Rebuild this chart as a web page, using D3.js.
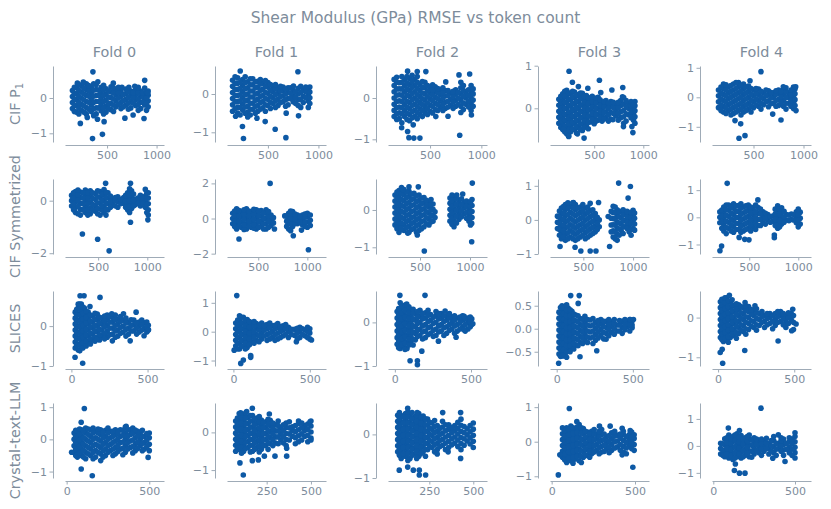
<!DOCTYPE html>
<html><head><meta charset="utf-8">
<script src="https://cdn.jsdelivr.net/npm/d3@7"></script>
<style>body{margin:0;background:#fff}svg text{font-family:"DejaVu Sans",sans-serif}</style>
</head><body><svg id="chart" width="831" height="509"></svg>
<script>
const chartTitle = "Shear Modulus (GPa) RMSE vs token count";
const rowLabels = ["CIF P", "CIF Symmetrized", "SLICES", "Crystal-text-LLM"];
const foldLabels = ["Fold 0", "Fold 1", "Fold 2", "Fold 3", "Fold 4"];

// axis limits [min,max] per row (representation) and column (fold)
const xLimits = [
  [[75,1075],[95,1075],[90,1055],[50,1058],[85,1075]],
  [[163,1170],[182,1190],[180,1170],[165,1160],[120,1130]],
  [[-42,608],[-42,606],[-45,605],[-44,606],[-40,610]],
  [[-10,589],[26,585],[15,578],[-10,584],[-8,598]]
];
const yLimits = [
  [[-1.246,.906],[-1.253,.731],[-1.065,.775],[-.791,.993],[-1.515,1.061]],
  [[-2.03,.825],[-2.02,2.25],[-1.18,.83],[-1.0,1.2],[-1.35,1.41]],
  [[-1.0,.88],[-1.19,1.41],[-1.0,.72],[-.81,.82],[-1.22,.67]],
  [[-1.2,1.13],[-1.21,.78],[-1.0,.72],[-1.05,1.12],[-1.19,1.59]]
];
const xTickValues = [
  [[500,1000],[500,1000],[500,1000],[500,1000],[500,1000]],
  [[500,1000],[500,1000],[500,1000],[500,1000],[500,1000]],
  [[0,500],[0,500],[0,500],[0,500],[0,500]],
  [[0,500],[250,500],[250,500],[0,500],[0,500]]
];
const yTickValues = [
  [[-1,0],[-1,0],[-1,0],[0,1],[-1,0,1]],
  [[-2,0],[-2,0,2],[-1,0],[-1,0,1],[-1,0,1]],
  [[-1,0],[-1,0,1],[-1,0],[-0.5,0,0.5],[-1,0]],
  [[-1,0,1],[-1,0],[-1,0],[-1,0,1],[-1,0,1]]
];

// data: each entry = [token count, residual, residual, ...]
const cifP1_f0 = [
 [150,-.3,-.13,.04,.21],[190,-.4,-.22,-.05,.12,.3],[240,-.35,-.18,0,.17,.35],[290,-.45,-.27,-.1,.08,.25,.4],
 [340,-.38,-.2,-.03,.14,.3],[390,-.45,-.28,-.1,.07,.24,.38],[440,-.36,-.19,-.02,.15,.3],[490,-.4,-.23,-.06,.11,.26],
 [540,-.33,-.16,.01,.17,.32],[590,-.25,-.08,.09,.22],[640,-.3,-.13,.04,.18],[690,-.2,-.04,.12,.25],
 [740,-.28,-.1,.06,.2],[790,-.22,-.05,.1,.25],[840,-.3,-.12,.05,.2],[880,-.2,-.03,.12,.28],[915,-.25,-.08,.08,.2],
 [170,-.38,-.2,-.03,.13,.3],[215,-.45,-.28,-.12,.05,.22,.38],[265,-.4,-.22,-.05,.12,.28],[315,-.32,-.12,.05,.2,.35],
 [365,-.5,-.3,-.12,.05,.22,.4],[415,-.28,-.1,.07,.22],[465,-.45,-.28,-.1,.07,.23,.36],[515,-.3,-.15,.03,.2],
 [565,-.38,-.2,-.03,.14,.28],[615,-.18,0,.15,.3],[665,-.25,-.08,.1],[715,-.32,-.15,.02,.18],[765,-.15,.02,.15],
 [815,-.35,-.18,-.02,.15,.3],[860,-.12,.03,.15],[898,-.35,-.15,0,.18],
 [357,.74],[880,.5],[407,.46],[563,.42],[230,-.72],[353,-1.15],[453,-1.03],[403,-.6],[470,-.67],[680,-.57],
 [763,-.48],[873,-.58],[300,-.55],[200,.42],[260,.45],[720,.3],[650,.3],[780,.33],[910,.15]
];
const cifP1_f1 = [
 [150,-.45,-.28,-.12,.04,.2,.36],[200,-.5,-.35,-.2,-.04,.12,.28,.42],[250,-.42,-.26,-.1,.06,.22,.38],
 [300,-.48,-.32,-.16,0,.16,.32],[350,-.4,-.24,-.08,.08,.24,.4],[400,-.45,-.3,-.14,.02,.18,.33],
 [450,-.36,-.2,-.04,.12,.28],[500,-.3,-.14,.02,.18,.3],[550,-.25,-.1,.06,.2],[600,-.3,-.14,.02,.15],
 [650,-.2,-.05,.1,.18],[700,-.28,-.12,.04,.16],[750,-.2,-.05,.1],[800,-.3,-.15,0,.15],[850,-.22,-.06,.1],
 [900,-.35,-.18,-.02,.14],
 [175,-.38,-.2,-.04,.12,.28,.45],[225,-.55,-.35,-.18,-.02,.14,.3],[275,-.5,-.34,-.18,-.02,.14,.3,.45],
 [325,-.55,-.4,-.24,-.08,.08,.24,.4],[375,-.5,-.32,-.16,0,.16,.32],[425,-.4,-.22,-.06,.1,.26,.38],
 [475,-.45,-.28,-.12,.04,.2,.35],[525,-.38,-.22,-.06,.1,.25],[575,-.35,-.18,-.02,.13,.25],[625,-.22,-.06,.08,.2],
 [675,-.32,-.15,0,.13],[725,-.12,.02,.16],[775,-.25,-.1,.05],[825,-.35,-.14,.04,.2],[875,-.1,.06,.18],
 [915,-.25,-.1,.05,.18],
 [226,.6],[797,.58],[248,-.85],[258,-1.16],[572,-.92],[678,-1.14],[803,-.57],[681,-.5],[473,-.72],[391,-.63],
 [753,.21],[879,.15],[180,-.58],[300,-.6]
];
const cifP1_f2 = [
 [150,-.45,-.3,-.15,0,.15,.3,.45],[200,-.5,-.36,-.22,-.07,.08,.22,.37],[250,-.45,-.3,-.15,0,.15,.3,.45],
 [300,-.55,-.4,-.26,-.11,.04,.18,.33,.48],[350,-.45,-.3,-.15,0,.15,.3,.45],[400,-.4,-.26,-.11,.04,.18,.33],
 [450,-.35,-.2,-.05,.1,.25,.38],[500,-.32,-.17,-.02,.13,.26],[550,-.28,-.13,.02,.15,.27],[600,-.22,-.07,.08,.2],
 [650,-.25,-.1,.05,.18],[700,-.18,-.03,.12],[750,-.2,-.05,.1,.2],[800,-.35,-.2,-.05,.1,.25,.38],[850,-.15,0,.12],
 [900,-.3,-.15,0,.15,.3],
 [175,-.52,-.38,-.23,-.08,.07,.22,.38,.5],[225,-.6,-.38,-.23,-.08,.07,.22,.38,.52],[275,-.52,-.37,-.22,-.08,.07,.22,.37,.52],
 [325,-.48,-.33,-.18,-.04,.11,.26,.4,.55],[375,-.5,-.35,-.2,-.06,.08,.23,.38,.52],[425,-.45,-.3,-.16,-.02,.12,.26,.4],
 [475,-.4,-.26,-.12,.03,.17,.3],[525,-.36,-.2,-.06,.08,.2,.32],[575,-.3,-.16,-.02,.12,.23],[625,-.3,-.15,0,.12,.25],
 [675,-.22,-.08,.06,.18],[725,-.25,-.1,.04,.16],[775,-.15,0,.14],[825,-.28,-.12,.04,.18,.3],[875,-.22,-.08,.06,.2],
 [920,-.2,-.05,.1,.22],
 [281,.65],[375,.64],[459,.64],[653,.39],[782,.56],[886,.58],[223,-.72],[294,-.96],[342,-.97],[401,-.97],
 [281,-.81],[675,-.44],[789,-.9],[903,-.41],[556,-.45],[336,-.65]
];
const cifP1_f3 = [
 [140,-.35,-.21,-.07,.07,.21],[180,-.5,-.36,-.22,-.08,.06,.2,.34],[220,-.6,-.45,-.3,-.15,0,.15,.3,.42],
 [260,-.55,-.4,-.25,-.1,.05,.2,.35],[300,-.5,-.35,-.2,-.05,.1,.25,.38],[340,-.45,-.3,-.15,0,.15,.3],
 [380,-.52,-.37,-.22,-.07,.08,.23,.35],[420,-.4,-.25,-.1,.05,.2,.3],[460,-.32,-.18,-.04,.1,.22],
 [500,-.36,-.22,-.08,.06,.2],[540,-.28,-.14,0,.14,.26],[580,-.3,-.16,-.02,.12],[620,-.22,-.08,.06,.18],
 [670,-.25,-.1,.04,.16],[720,-.18,-.04,.1],[770,-.22,-.08,.06,.18],[800,-.35,-.2,-.05,.1,.25],[850,-.15,0,.12],
 [900,-.28,-.14,0,.1],
 [160,-.45,-.3,-.15,0,.14,.28],[200,-.55,-.42,-.28,-.14,0,.14,.28,.4],[240,-.65,-.5,-.36,-.22,-.08,.07,.22,.36],
 [280,-.48,-.33,-.18,-.03,.12,.27,.4],[320,-.58,-.43,-.28,-.13,.02,.17,.32],[360,-.5,-.37,-.22,-.08,.07,.22,.36],
 [400,-.45,-.3,-.15,0,.15,.28],[440,-.48,-.33,-.18,-.03,.12,.25],[480,-.26,-.12,.03,.16,.28],
 [520,-.3,-.15,-.01,.13,.24],[560,-.22,-.07,.07,.2],[600,-.25,-.1,.04,.16],[645,-.3,-.15,0,.12],
 [695,-.12,.02,.14],[745,-.28,-.12,.02,.14],[825,-.3,-.13,.03,.18],[875,-.22,-.08,.06,.16],[915,-.35,-.2,-.06,.06,.16],
 [244,.87],[278,.61],[553,.66],[339,.51],[435,.47],[567,.37],[680,.43],[791,.49],[788,.27],[884,-.43],
 [894,-.57],[397,-.7],[186,-.49],[690,-.27],[798,-.43],[900,.08],[240,-.66],[330,-.6]
];
const cifP1_f4 = [
 [150,-.35,-.15,.05,.25],[200,-.5,-.3,-.1,.1,.3,.45],[250,-.45,-.25,-.05,.15,.35],[300,-.55,-.35,-.15,.05,.25,.45],
 [350,-.45,-.25,-.05,.15,.35,.5],[400,-.5,-.3,-.1,.1,.3,.45],[450,-.4,-.2,0,.2,.38],[500,-.35,-.15,.05,.25],
 [550,-.3,-.1,.1,.28],[600,-.25,-.05,.15],[650,-.32,-.12,.08,.22],[700,-.2,0,.15],[750,-.28,-.08,.12,.25],
 [800,-.3,-.1,.1,.28],[850,-.2,0,.15],[900,-.38,-.18,.02,.2,.35],
 [175,-.45,-.25,-.05,.15,.35],[225,-.55,-.35,-.15,.05,.25,.42],[275,-.6,-.4,-.2,0,.2,.4],[325,-.5,-.3,-.1,.1,.3,.5],
 [375,-.6,-.4,-.2,0,.2,.4],[425,-.45,-.25,-.05,.15,.35],[475,-.5,-.3,-.1,.1,.3],[525,-.25,-.05,.15,.3],
 [575,-.4,-.2,0,.2],[625,-.15,.05,.25],[675,-.22,-.02,.16],[725,-.3,-.1,.1,.22],[775,-.18,.02,.2],
 [825,-.4,-.2,0,.2,.32],[875,-.3,-.1,.1,.25],[915,-.28,-.08,.12,.28],
 [575,.87],[465,.56],[315,-.79],[372,-.9],[355,-1.39],[415,-1.3],[775,-.77],[692,-.57],[925,-.45],[798,.36],[922,.36]
];

const cifSym_f0 = [
 [230,-.2,0,.2],[270,-.45,-.25,-.05,.15,.35],[320,-.55,-.33,-.1,.12,.33],[370,-.45,-.23,0,.22,.4],
 [420,-.5,-.28,-.05,.18,.38],[470,-.4,-.18,.05,.27],[520,-.55,-.32,-.1,.12,.35],[560,-.45,-.22,0,.22,.42],
 [600,-.35,-.12,.1,.3],[650,-.15,.08],[700,-.25,-.03,.15],[760,-.1,.12],[800,-.35,-.12,.1,.3],
 [840,-.3,-.08,.15,.38],[880,-.15,.05],[930,-.2,0,.2],[980,-.25,-.03,.18],[1010,-.55,-.35,-.12,.1,.3],
 [250,-.35,-.12,.1,.3],[295,-.5,-.22,0,.22,.4],[345,-.35,-.12,.1,.3],[395,-.55,-.35,-.12,.1,.3],
 [445,-.35,-.15,.08,.3],[495,-.5,-.3,-.08,.15,.38],[540,-.35,-.2,.02,.24],[580,-.55,-.33,-.1,.12,.32],
 [625,-.25,-.03,.18],[675,-.2,0,.12],[730,-.12,.05],[780,-.25,-.02,.2],[820,-.45,-.22,0,.22,.45],
 [860,-.2,.02,.25],[905,-.1,.1],[955,-.12,.1],[995,-.45,-.15,.08,.28],
 [576,.66],[829,.66],[980,.43],[340,-1.27],[495,-1.47],[612,-1.91],[829,-.82],[1006,-.73]
];
const cifSym_f1 = [
 [240,-.3,0,.3],[280,-.6,-.3,0,.3,.55],[330,-.5,-.2,.1,.4],[380,-.6,-.3,0,.3,.55],[430,-.5,-.2,.1,.4],
 [480,-.6,-.3,0,.3,.5],[530,-.45,-.15,.15,.45],[580,-.6,-.3,0,.3,.5],[630,-.4,-.1,.2],[770,.15],
 [810,-.6,-.3,0,.3],[850,-.45,-.15,.15,.4],[900,-.3,0,.2],[950,-.35,-.05,.2],[1000,-.5,-.2,.1,.3],
 [260,-.45,-.15,.15,.42],[305,-.45,-.15,.15,.45],[355,-.62,-.35,-.05,.25,.5],[405,-.45,-.15,.15,.42],
 [455,-.55,-.35,-.05,.25,.52],[505,-.5,-.15,.15,.42],[555,-.6,-.3,0,.3],[605,-.5,-.15,.15,.4],[655,-.25,.05],
 [790,-.45,-.15,.15],[830,-.7,-.3,0,.25,.42],[875,-.3,-.05,.25],[925,-.2,.1],[975,-.45,-.2,.08,.25],[1030,-.4,-.1,.2],
 [621,2.0],[304,-1.17],[857,-.98],[940,-.66],[1011,-1.78],[665,-.6]
];
const cifSym_f2 = [
 [250,-.4,-.24,-.08,.08,.24,.4],[290,-.6,-.44,-.28,-.12,.04,.2,.36,.52],[340,-.55,-.39,-.23,-.07,.09,.25,.41,.55],
 [390,-.6,-.44,-.28,-.12,.04,.2,.36,.5],[440,-.5,-.34,-.18,-.02,.14,.3,.45],[490,-.55,-.39,-.23,-.07,.09,.25,.4],
 [540,-.45,-.29,-.13,.03,.19,.33],[590,-.4,-.24,-.08,.08,.22],[630,-.3,-.14,.02,.16],
 [800,-.3,-.14,.02,.18,.32],[840,-.45,-.29,-.13,.03,.19,.35],[890,-.25,-.09,.07,.22],[940,-.1,.06,.2],
 [990,-.3,-.14,.02,.18],[1020,-.2,-.04,.12,.28],
 [270,-.5,-.32,-.16,0,.16,.32,.48],[315,-.52,-.36,-.2,-.04,.12,.28,.44,.6],[365,-.47,-.31,-.15,.01,.17,.33,.48],
 [415,-.52,-.36,-.2,-.04,.12,.28,.43],[465,-.6,-.42,-.26,-.1,.06,.22,.38],[515,-.5,-.31,-.15,.01,.17,.32],
 [565,-.37,-.21,-.05,.11,.26],[610,-.32,-.16,0,.14,.28],[650,-.2,-.05],[820,-.38,-.22,-.06,.1,.26,.4],
 [865,-.35,-.17,-.01,.15,.3],[915,-.18,-.02,.14,.3],[965,-.22,-.06,.1,.24],[1005,-.4,-.22,-.06,.1,.22],
 [1023,.72],[927,.43],[867,.4],[543,-1.1],[1017,-.85],[1017,-.36],[473,-.67],[377,-.62],[310,-.49],
 [483,.62],[390,.62],[327,.55]
];
const cifSym_f3 = [
 [240,-.25,-.07,.11],[280,-.55,-.37,-.19,-.01,.17,.35],[320,-.6,-.42,-.24,-.06,.12,.3,.45],
 [370,-.5,-.32,-.14,.04,.22,.4],[420,-.6,-.42,-.24,-.06,.12,.3,.45],[470,-.5,-.32,-.14,.04,.22,.38],
 [520,-.55,-.37,-.19,-.01,.17,.35],[570,-.45,-.27,-.09,.09,.27],[620,-.35,-.17,.01,.19],[660,-.2,0],[750,.1],
 [800,-.5,-.32,-.14,.04,.22,.4],[840,-.6,-.42,-.24,-.06,.12,.3],[880,-.3,-.12,.06,.24],[920,-.2,-.02,.16],
 [960,-.35,-.17,.01,.19],[1000,-.25,-.07,.11,.28],
 [260,-.45,-.28,-.1,.08,.26],[300,-.5,-.33,-.15,.03,.21,.39],[345,-.55,-.38,-.2,-.02,.16,.34,.5],
 [395,-.55,-.37,-.19,-.01,.17,.35,.5],[445,-.55,-.37,-.19,-.01,.17,.35],[495,-.45,-.27,-.09,.09,.27,.45],
 [545,-.5,-.32,-.14,.04,.22,.38],[595,-.4,-.22,-.04,.14,.3],[640,-.28,-.1,.08],[780,-.35,-.15,.05,.25],
 [820,-.55,-.35,-.15,.03,.21,.38],[860,-.45,-.27,-.09,.09,.25],[900,-.4,-.2,-.02,.15,.3],[940,-.25,-.08,.1,.25],
 [980,-.45,-.28,-.1,.08,.22],[1015,-.3,-.12,.05,.2],
 [855,1.08],[973,.98],[950,.64],[266,-.78],[417,-.8],[569,-.91],[627,-.91],[475,-.91],[764,-.78],
 [653,.51],[569,.49],[400,.51]
];
const cifSym_f4 = [
 [200,-.2,0,.2],[240,-.5,-.28,-.06,.16,.38],[290,-.4,-.18,.04,.26,.45],[340,-.55,-.33,-.11,.11,.33,.5],
 [390,-.45,-.23,-.01,.21,.43],[440,-.5,-.28,-.06,.16,.38],[490,-.4,-.18,.04,.26,.45],[540,-.35,-.13,.09,.31],
 [590,-.3,-.08,.14,.36],[640,-.2,.02,.2],[690,-.1,.1],[740,-.15,.05],[790,-.4,-.18,.04,.26,.42],
 [830,-.25,-.03,.19,.35],[880,-.1,.1],[930,-.08,.12],[980,-.2,0,.2],[1020,-.25,-.03,.19],
 [220,-.4,-.17,.05,.27],[265,-.6,-.38,-.15,.07,.28,.45],[315,-.5,-.28,-.06,.16,.38],[365,-.45,-.22,0,.22,.42],
 [415,-.55,-.33,-.11,.11,.33,.5],[465,-.45,-.23,-.01,.21,.42],[515,-.5,-.28,-.06,.16,.38],[565,-.45,-.23,-.02,.2,.45],
 [615,-.3,-.08,.12,.3],[665,-.25,-.05,.15],[715,-.18,.02],[765,-.3,-.08,.12,.3],[810,-.35,-.12,.1,.3],
 [855,-.18,.02,.22],[905,-.12,.08],[955,-.1,.1],[1000,-.35,-.1,.1,.3],
 [275,1.25],[218,-1.06],[201,-1.23],[454,-.81],[397,-.74],[497,-.83],[756,-.75],[756,-.65],[588,.64]
];

const slices_f0 = [
 [25,-.55,-.4,-.25,-.1,.05,.2,.35],[45,-.6,-.45,-.3,-.15,0,.15,.3,.45,.55],[65,-.5,-.35,-.2,-.05,.1,.25,.4,.55],
 [85,-.45,-.3,-.15,0,.15,.3,.45],[110,-.4,-.25,-.1,.05,.2,.35],[140,-.35,-.2,-.05,.1,.25],[170,-.3,-.15,0,.15,.3],
 [200,-.25,-.1,.05,.2],[235,-.28,-.13,.02,.17,.28],[270,-.2,-.05,.1,.22],[305,-.25,-.1,.05,.18],[340,-.15,0,.15],
 [375,-.2,-.05,.1],[410,-.12,.03,.15],[445,-.15,0,.1],[480,-.05,.08],[505,-.1,.02],
 [35,-.48,-.32,-.18,-.02,.12,.28,.42],[55,-.62,-.48,-.32,-.18,-.02,.12,.28,.42,.55],[75,-.55,-.42,-.28,-.12,.02,.18,.32,.48],
 [97,-.5,-.38,-.22,-.08,.08,.22,.38],[125,-.45,-.32,-.18,-.02,.12,.28],[155,-.38,-.28,-.12,.02,.18,.32],
 [185,-.35,-.22,-.08,.08,.22],[218,-.32,-.18,-.02,.12,.25],[252,-.22,-.05,.1,.24],[288,-.28,-.12,.02,.16,.28],
 [322,-.18,-.03,.12,.24],[358,-.25,-.08,.08,.2],[392,-.12,.02,.16],[428,-.2,-.05,.08],[462,-.1,.05,.15],[495,-.15,-.02,.1],
 [57,.76],[83,.76],[188,.72],[74,-.93],[24,-.78],[122,.49],[425,.35],[342,.31],[265,.31],[386,-.37],
 [269,-.37],[506,-.09],[477,-.24],[166,-.33]
];
const slices_f1 = [
 [15,-.5,-.3,-.1,.1,.3],[40,-.6,-.4,-.2,0,.2,.4,.55],[65,-.5,-.3,-.1,.1,.3,.5],[90,-.55,-.35,-.15,.05,.25,.42],
 [120,-.35,-.15,.05,.25],[150,-.3,-.1,.1,.28],[185,-.25,-.05,.15,.3],[220,-.3,-.1,.1,.25],[255,-.2,0,.2],
 [290,-.25,-.05,.15,.28],[325,-.15,.05,.2],[360,-.2,0,.15],[400,-.12,.08],[435,-.2,0,.15],[470,-.15,.05],
 [500,-.25,-.05,.1],
 [28,-.6,-.4,-.2,0,.2,.4],[52,-.5,-.3,-.1,.1,.3,.5],[78,-.6,-.4,-.2,0,.2,.4],[105,-.45,-.25,-.05,.15,.35],
 [135,-.4,-.2,0,.2,.35],[168,-.35,-.15,.05,.22],[202,-.15,.05,.22],[238,-.25,-.05,.15,.3],[272,-.3,-.1,.1,.22],
 [308,-.2,0,.18],[342,-.1,.1,.25],[380,-.1,.08],[418,-.25,-.05,.12],[452,-.1,.1],[485,-.2,0,.15],
 [22,1.25],[5,-.64],[48,-1.1],[65,-.98],[113,-.89],[113,-.83],[412,-.35],[511,-.29]
];
const slices_f2 = [
 [15,-.5,-.35,-.2,-.05,.1,.25],[35,-.6,-.45,-.3,-.15,0,.15,.3,.45],[55,-.55,-.4,-.25,-.1,.05,.2,.35],
 [80,-.6,-.45,-.3,-.15,0,.15,.3],[105,-.45,-.3,-.15,0,.15,.3],[135,-.4,-.25,-.1,.05,.2],[165,-.3,-.15,0,.15,.28],
 [200,-.35,-.2,-.05,.1,.22],[235,-.25,-.1,.05,.18],[270,-.3,-.15,0,.15,.25],[305,-.2,-.05,.1,.2],
 [340,-.25,-.1,.05,.15],[375,-.15,0,.12],[410,-.2,-.05,.1],[445,-.1,.05,.15],[480,-.15,0,.1],[505,-.05,.08],
 [25,-.58,-.42,-.28,-.13,.02,.17,.32],[45,-.52,-.37,-.22,-.08,.08,.22,.38],[67,-.62,-.48,-.33,-.18,-.03,.12,.27,.4],
 [92,-.52,-.38,-.22,-.08,.08,.22,.36],[120,-.52,-.38,-.22,-.08,.08,.22,.3],[150,-.32,-.18,-.02,.12,.25],
 [182,-.38,-.22,-.08,.08,.2],[218,-.28,-.12,.02,.16,.28],[252,-.32,-.18,-.02,.12],[288,-.22,-.08,.08,.2],
 [322,-.3,-.12,.02,.15],[358,-.18,-.05,.1,.2],[392,-.25,-.08,.05,.15],[428,-.15,0,.12],[462,-.2,-.05,.08],[495,-.1,.02,.12],
 [33,.62],[198,.62],[78,.42],[100,-.88],[148,-.88],[148,-.97],[177,-.66],[286,-.43],[402,-.34],[455,-.17],
 [512,-.03],[330,.26],[455,.14]
];
const slices_f3 = [
 [15,-.55,-.42,-.29,-.16,-.03,.1,.23,.36],[35,-.5,-.37,-.24,-.11,.02,.15,.28,.41,.5],
 [55,-.55,-.42,-.29,-.16,-.03,.1,.23,.36,.48],[75,-.45,-.32,-.19,-.06,.07,.2,.33,.45],
 [100,-.4,-.27,-.14,-.01,.12,.25,.38],[125,-.35,-.22,-.09,.04,.17,.3],[155,-.3,-.17,-.04,.09,.22],
 [185,-.25,-.12,.01,.14,.27],[220,-.2,-.07,.06,.19],[255,-.25,-.12,.01,.14],[290,-.15,-.02,.11,.2],
 [325,-.1,.03,.16],[360,-.08,.05,.15],[395,-.05,.08],[430,-.1,.03,.16],[465,.05,.15],[495,.02,.08,.17],
 [25,-.6,-.45,-.32,-.19,-.06,.07,.2,.33,.46],[45,-.58,-.45,-.32,-.19,-.06,.07,.2,.33,.46],
 [65,-.5,-.37,-.24,-.11,.02,.15,.28,.41,.52],[88,-.5,-.37,-.24,-.11,.02,.15,.28,.41],
 [112,-.44,-.32,-.2,-.07,.06,.19,.32],[140,-.37,-.24,-.11,.02,.15,.28],[170,-.32,-.19,-.06,.07,.2],
 [202,-.3,-.18,-.05,.08,.2],[238,-.32,-.18,-.05,.08,.22],[272,-.2,-.07,.06,.18],[308,-.22,-.08,.05,.16],
 [342,-.15,-.02,.1,.2],[378,-.12,0,.12,.2],[412,-.05,.08,.18],[448,-.02,.1,.2],[480,-.05,.1,.2],
 [92,.72],[148,.72],[141,.55],[13,-.75],[39,-.59],[65,-.62],[153,-.61],[263,-.48],[324,-.23],[482,.2],[504,.2]
];
const slices_f4 = [
 [15,-.5,-.35,-.2,-.05,.1,.25,.4],[35,-.6,-.45,-.3,-.15,0,.15,.3,.45],[55,-.55,-.4,-.25,-.1,.05,.2,.35,.5],
 [80,-.5,-.35,-.2,-.05,.1,.25,.4],[105,-.45,-.3,-.15,0,.15,.3],[135,-.4,-.25,-.1,.05,.2,.32],
 [165,-.35,-.2,-.05,.1,.25],[200,-.3,-.15,0,.15,.28],[235,-.25,-.1,.05,.18],[270,-.2,-.05,.1],
 [305,-.25,-.1,.05],[340,-.15,0,.1],[375,-.2,-.05,.1],[410,-.1,.05,.15],[445,-.25,-.1,.05],[480,-.05,.1],
 [25,-.55,-.42,-.28,-.12,.02,.18,.32,.46],[45,-.52,-.38,-.22,-.08,.08,.22,.38,.5],[67,-.62,-.48,-.32,-.18,-.02,.12,.28,.42],
 [92,-.42,-.28,-.12,.02,.18,.32,.45],[120,-.52,-.38,-.22,-.08,.08,.22,.35],[150,-.32,-.18,-.02,.12,.28],
 [182,-.42,-.28,-.12,.02,.18,.3],[218,-.22,-.08,.08,.2],[252,-.32,-.18,-.02,.12,.22],[288,-.12,.02,.15],
 [322,-.18,-.02,.1],[358,-.28,-.1,.05],[392,-.12,.02,.15],[428,-.18,-.02,.1],[462,-.15,0,.12],[495,-.3,-.12,.05],
 [74,.56],[14,-.88],[27,-.8],[30,-1.15],[175,-.83],[394,-.59],[483,-.33],[512,-.16],[490,.21],[242,.3],[177,.38]
];

const crystal_f0 = [
 [45,-.4,-.2,0,.2],[65,-.55,-.35,-.15,.05,.25],[90,-.5,-.3,-.1,.1,.3],[115,-.6,-.4,-.2,0,.2,.35],
 [145,-.5,-.3,-.1,.1,.3],[175,-.55,-.35,-.15,.05,.25],[205,-.45,-.25,-.05,.15,.3],[235,-.5,-.3,-.1,.1,.28],
 [265,-.35,-.15,.05,.25],[295,-.45,-.25,-.05,.15,.3],[325,-.3,-.1,.1,.3],[355,-.4,-.2,0,.2,.38],
 [385,-.25,-.05,.15,.3],[415,-.35,-.15,.05,.25],[445,-.2,0,.2],[470,-.3,-.1,.1],[500,-.35,-.15,.05,.2],
 [55,-.5,-.3,-.1,.1,.28],[78,-.42,-.22,-.02,.18,.32],[102,-.55,-.35,-.15,.05,.25],[130,-.45,-.25,-.05,.15,.32],
 [160,-.6,-.4,-.2,0,.2,.35],[190,-.4,-.2,0,.2,.32],[220,-.55,-.35,-.15,.05,.22],[250,-.4,-.2,0,.2,.35],
 [280,-.5,-.3,-.1,.1,.25],[310,-.38,-.18,.02,.22],[340,-.48,-.28,-.08,.12,.28],[370,-.3,-.1,.1,.3],
 [400,-.42,-.22,-.02,.18,.35],[430,-.28,-.08,.12,.25],[458,-.35,-.12,.08,.28],[485,-.22,-.02,.18],
 [107,.96],[88,.53],[88,-.92],[155,-1.13],[493,-.56],[30,-.4],[360,.41],[415,.29],[206,-.66]
];
const crystal_f1 = [
 [75,-.5,-.34,-.18,-.02,.14,.3],[95,-.45,-.29,-.13,.03,.19,.35,.5],[120,-.5,-.34,-.18,-.02,.14,.3,.45],
 [145,-.4,-.24,-.08,.08,.24,.4],[170,-.5,-.34,-.18,-.02,.14,.3,.45],[195,-.4,-.24,-.08,.08,.24,.38],
 [220,-.45,-.29,-.13,.03,.19,.33],[245,-.35,-.19,-.03,.13,.28],[270,-.3,-.14,.02,.18,.32],
 [300,-.28,-.12,.04,.2],[330,-.2,-.04,.12],[360,-.35,-.19,-.03,.13,.25],[395,-.1,.06,.15],
 [430,-.25,-.09,.07,.23,.3],[465,-.1,.06,.18],[500,-.15,.01,.17,.3],
 [85,-.42,-.26,-.1,.06,.22,.38],[108,-.55,-.4,-.24,-.08,.08,.24,.4],[132,-.42,-.26,-.1,.06,.22,.38,.52],
 [158,-.52,-.34,-.18,-.02,.14,.3,.45],[182,-.45,-.28,-.12,.04,.2,.36],[208,-.52,-.36,-.2,-.04,.12,.28,.42],
 [232,-.35,-.2,-.04,.12,.26],[258,-.45,-.27,-.11,.05,.21,.35],[285,-.35,-.2,-.04,.1,.25],
 [315,-.3,-.12,.04,.18,.3],[345,-.28,-.12,.04,.2],[378,-.2,-.04,.12,.28],[412,-.3,-.14,.02,.18],
 [448,-.2,-.04,.12,.25],[482,-.25,-.08,.08,.22],
 [169,.64],[103,.52],[137,.55],[265,.49],[99,-.81],[118,-1.13],[169,-.75],[203,-.73],[237,-.63],
 [297,-.63],[363,-.63],[363,-.42],[500,-.2],[495,.28]
];
const crystal_f2 = [
 [70,-.4,-.26,-.12,.02,.16,.3,.44],[90,-.55,-.41,-.27,-.13,.01,.15,.29,.43],
 [115,-.5,-.36,-.22,-.08,.06,.2,.34,.48],[140,-.55,-.41,-.27,-.13,.01,.15,.29,.43],
 [165,-.45,-.31,-.17,-.03,.11,.25,.39],[190,-.5,-.36,-.22,-.08,.06,.2,.34,.48],
 [215,-.4,-.26,-.12,.02,.16,.3,.42],[240,-.35,-.21,-.07,.07,.21,.35],[265,-.3,-.16,-.02,.12,.26],
 [295,-.35,-.21,-.07,.07,.2],[325,-.25,-.11,.03,.17,.3],[360,-.3,-.16,-.02,.12,.22],[395,-.2,-.06,.08,.2],
 [430,-.35,-.21,-.07,.07,.21,.35],[465,-.15,-.01,.13],[500,-.3,-.16,-.02,.12,.26],
 [80,-.48,-.34,-.2,-.06,.08,.22,.36,.5],[102,-.45,-.3,-.16,-.02,.12,.26,.4],[128,-.6,-.44,-.3,-.16,-.02,.12,.26,.4,.52],
 [152,-.48,-.34,-.2,-.06,.08,.22,.36,.5],[178,-.55,-.4,-.26,-.12,.02,.16,.3,.44],[202,-.44,-.3,-.16,-.02,.12,.26,.4],
 [228,-.5,-.34,-.2,-.06,.08,.22,.36],[252,-.28,-.14,0,.14,.28],[280,-.4,-.24,-.1,.04,.18,.32],
 [310,-.28,-.14,0,.14],[342,-.35,-.2,-.06,.08,.22],[378,-.24,-.1,.04,.16],[412,-.28,-.13,.01,.14,.28],
 [448,-.25,-.1,.04,.18],[482,-.22,-.08,.06,.2],
 [127,.6],[181,.5],[193,-.93],[229,-.93],[79,-.82],[127,-.75],[159,-.82],[193,-.82],[326,.5],[428,.5],
 [295,-.45],[428,-.55],[357,-.4]
];
const crystal_f3 = [
 [65,-.45,-.28,-.11,.06,.23,.4],[90,-.6,-.43,-.26,-.09,.08,.25,.4],[115,-.55,-.38,-.21,-.04,.13,.3,.45],
 [140,-.5,-.33,-.16,.01,.18,.35],[165,-.55,-.38,-.21,-.04,.13,.3,.5],[190,-.45,-.28,-.11,.06,.23,.38],
 [215,-.4,-.23,-.06,.11,.28],[240,-.35,-.18,-.01,.16,.3],[270,-.25,-.08,.09,.22],[300,-.3,-.13,.04,.21,.35],
 [330,-.2,-.03,.14],[360,-.25,-.08,.09,.26],[395,-.15,.02,.19],[430,-.3,-.13,.04,.21,.3],[465,-.1,.07,.2],
 [495,-.25,-.08,.09,.2],
 [78,-.52,-.35,-.18,-.01,.16,.32],[102,-.48,-.3,-.13,.04,.21,.36],[128,-.62,-.45,-.28,-.11,.06,.23,.4],
 [152,-.42,-.25,-.08,.09,.26,.42],[178,-.6,-.43,-.26,-.09,.08,.25,.4],[202,-.38,-.2,-.03,.14,.3],
 [228,-.45,-.28,-.11,.06,.22],[255,-.3,-.12,.05,.22,.35],[285,-.35,-.17,0,.16,.3],[315,-.28,-.1,.06,.22],
 [345,-.32,-.15,.02,.18],[378,-.18,0,.16,.3],[412,-.25,-.08,.1,.22],[448,-.35,-.18,-.02,.15],[480,-.2,-.02,.14,.28],
 [106,.96],[40,-.96],[49,-.38],[151,.58],[287,.45],[351,.45],[423,.39],[471,.32],[487,-.74],[423,-.38]
];
const crystal_f4 = [
 [45,-.3,-.1,.1],[70,-.4,-.18,.04,.26],[95,-.45,-.23,-.01,.21,.4],[120,-.5,-.28,-.06,.16,.35],
 [145,-.4,-.18,.04,.26,.45],[170,-.45,-.23,-.01,.21,.38],[195,-.35,-.13,.09,.3],[220,-.4,-.18,.04,.26,.4],
 [250,-.3,-.08,.14,.3],[280,-.25,-.03,.19],[310,-.2,0,.2],[340,-.3,-.1,.1],[370,-.25,-.03,.19,.35],
 [400,-.1,.1],[430,-.35,-.15,.05,.25],[465,-.25,-.05,.15,.3],[500,-.45,-.25,-.05,.15,.35],
 [58,-.35,-.15,.08],[82,-.32,-.1,.12,.3],[108,-.35,-.13,.09,.28],[132,-.45,-.25,-.03,.2,.4],[158,-.3,-.08,.14,.32],
 [182,-.4,-.18,.05,.25],[208,-.28,-.05,.18,.35],[235,-.42,-.2,.02,.22],[265,-.18,.05,.25],[295,-.35,-.12,.08,.25],
 [325,-.1,.1,.28],[355,-.2,0,.2],[385,-.35,-.12,.1],[415,-.2,0,.2,.3],[448,-.12,.1],[482,-.35,-.12,.08,.25],
 [292,1.4],[92,.66],[160,.57],[135,-.67],[129,-.91],[160,-1.01],[194,-1.01],[439,-.58],[364,-.46],[500,.49],[398,.41]
];

const panelData = [
  [cifP1_f0, cifP1_f1, cifP1_f2, cifP1_f3, cifP1_f4],
  [cifSym_f0, cifSym_f1, cifSym_f2, cifSym_f3, cifSym_f4],
  [slices_f0, slices_f1, slices_f2, slices_f3, slices_f4],
  [crystal_f0, crystal_f1, crystal_f2, crystal_f3, crystal_f4]
];

// ---- layout / style ----
const textColor = "#7d8c9b", spineColor = "#9fabb7", dotColor = "#0d59a5";
const colLeft = [65, 227, 388, 550, 712], axW = 99;
const rowTop = [66, 179, 291, 403], rowBottom = [142, 254, 366, 478];

const svg = d3.select("#chart");
svg.append("rect").attr("width", 831).attr("height", 509).attr("fill", "#fff");

svg.append("text").attr("x", 415.5).attr("y", 22.5).attr("text-anchor", "middle")
  .attr("font-size", 15.5).attr("fill", textColor).text(chartTitle);

foldLabels.forEach((f, c) => {
  svg.append("text").attr("x", colLeft[c] + axW / 2).attr("y", 57).attr("text-anchor", "middle")
    .attr("font-size", 14.4).attr("fill", textColor).text(f);
});

rowLabels.forEach((lab, r) => {
  const cy = (rowTop[r] + rowBottom[r]) / 2;
  const t = svg.append("text").attr("transform", `translate(20,${cy}) rotate(-90)`)
    .attr("text-anchor", "middle").attr("font-size", 14.4).attr("fill", textColor);
  t.append("tspan").text(lab);
  if (r === 0) t.append("tspan").attr("dy", 3).attr("font-size", 10).text("1");
});

function styleAxis(g) {
  g.select(".domain").attr("stroke", spineColor).attr("stroke-width", 1);
  g.selectAll(".tick line").attr("stroke", spineColor).attr("stroke-width", 1);
  g.selectAll(".tick text").attr("fill", textColor).attr("font-size", 11)
    .attr("font-family", '"DejaVu Sans",sans-serif');
}

for (let r = 0; r < 4; r++) {
  for (let c = 0; c < 5; c++) {
    const left = colLeft[c], T = rowTop[r], B = rowBottom[r];
    const x = d3.scaleLinear().domain(xLimits[r][c]).range([left, left + axW]);
    const y = d3.scaleLinear().domain(yLimits[r][c]).range([B, T]);
    const pts = [];
    panelData[r][c].forEach(e => { for (let i = 1; i < e.length; i++) pts.push([e[0], e[i]]); });
    svg.append("g").selectAll("circle").data(pts).join("circle")
      .attr("cx", d => x(d[0])).attr("cy", d => y(d[1])).attr("r", 2.8).attr("fill", dotColor);

    const yt = yTickValues[r][c];
    const fmt = yt.some(v => !Number.isInteger(v)) ? d3.format(".1f") : d3.format("d");
    const gy = svg.append("g").attr("transform", `translate(${left - 12},0)`)
      .call(d3.axisLeft(y).tickValues(yt).tickFormat(fmt).tickSize(3.5).tickSizeOuter(0).tickPadding(2.5));
    styleAxis(gy);
    const gx = svg.append("g").attr("transform", `translate(0,${B + 3})`)
      .call(d3.axisBottom(x).tickValues(xTickValues[r][c]).tickFormat(d3.format("d")).tickSize(3.5).tickSizeOuter(0).tickPadding(2.5));
    styleAxis(gx);
  }
}
</script></body></html>
